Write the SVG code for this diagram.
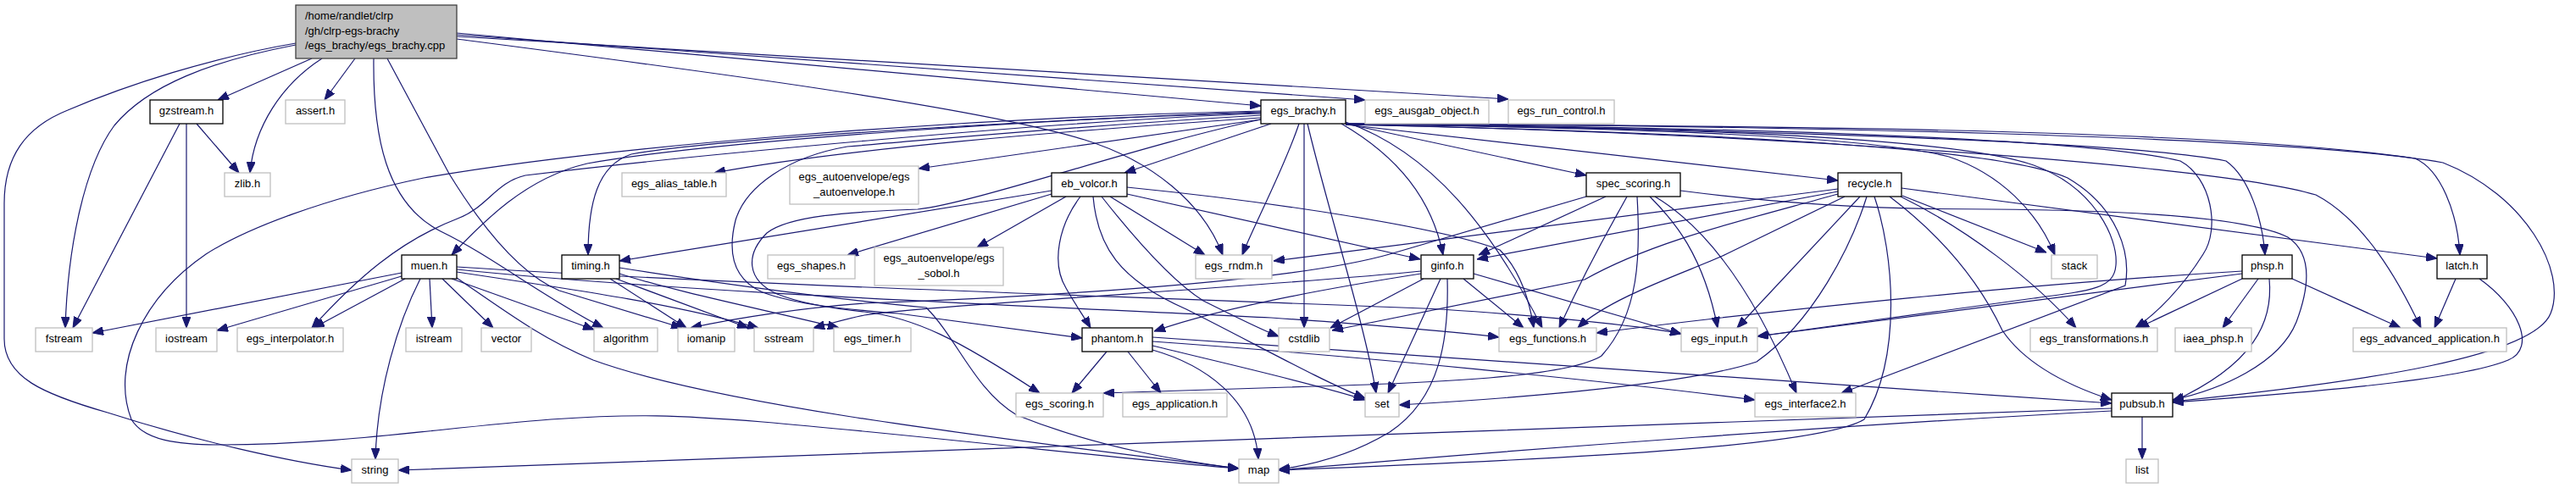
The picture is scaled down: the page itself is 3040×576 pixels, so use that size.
<svg xmlns="http://www.w3.org/2000/svg" width="3040" height="576" viewBox="0 0 3040 576">
<style>
.b{fill:#fff;stroke:#000;stroke-width:1.3}
.g{fill:#fff;stroke:#bfbfbf;stroke-width:1.3}
.r{fill:#bfbfbf;stroke:#404040;stroke-width:1.3}
text{font-family:"Liberation Sans",Arial,sans-serif;font-size:13px;fill:#000;text-anchor:middle}
text.l{text-anchor:start}
#edges path{fill:none;stroke:#191970;stroke-width:1.2;marker-end:url(#a)}
</style>
<defs>
<marker id="a" viewBox="0 0 13 10" refX="13" refY="5" markerWidth="13" markerHeight="10" markerUnits="userSpaceOnUse" orient="auto">
<path d="M0,0 L13,5 L0,10 z" fill="#191970" stroke="#191970" stroke-width="1"/>
</marker>
</defs>
<rect width="3040" height="576" fill="#fff"/>
<g id="edges">
<path d="M368,69 L257,118"/>
<path d="M380,69 C332,100 300,150 295,204"/>
<path d="M419,69 L383,118"/>
<path d="M349,53 C250,72 175,100 135,148 C100,195 80,290 77,387"/>
<path d="M349,51 C250,68 150,100 80,130 C30,150 5,185 5,240 L5,400 C5,445 50,465 127,487 C230,520 340,545 415,555"/>
<path d="M441,69 C440,160 455,240 520,273 C580,302 640,350 712,387"/>
<path d="M457,69 L530,205 C565,262 610,322 660,343 L805,387"/>
<path d="M539,39 L1488,125"/>
<path d="M539,41 L1611,118"/>
<path d="M539,43 L1780,117"/>
<path d="M539,46 C800,80 1150,125 1280,165 C1360,190 1420,240 1443,301"/>
<path d="M212,146 L86,387"/>
<path d="M220,146 L220,387"/>
<path d="M232,146 L282,204"/>
<path d="M1488,139 C1250,155 1000,175 843,204"/>
<path d="M1488,141 L1084,199"/>
<path d="M1500,146 L1327,204"/>
<path d="M1488,132 C1250,140 850,165 693,193 C620,210 570,262 533,301"/>
<path d="M1488,133 C1250,140 850,163 745,182 C705,195 694,240 694,301"/>
<path d="M1488,134 C1250,142 800,185 620,207 C585,215 575,245 540,258 C470,285 420,330 368,387"/>
<path d="M1488,131 C1100,140 700,175 500,210 C380,235 290,270 243,300 C170,350 130,430 155,495 C170,520 210,525 260,525 C400,525 520,505 650,495 C750,488 800,490 900,498 C1100,515 1350,545 1462,553"/>
<path d="M1533,146 C1515,200 1480,265 1466,301"/>
<path d="M1539,146 L1539,387"/>
<path d="M1543,146 C1565,240 1610,380 1624,464"/>
<path d="M1583,146 C1650,185 1690,235 1703,301"/>
<path d="M1588,144 C1690,180 1760,270 1820,387"/>
<path d="M1588,146 L1872,207"/>
<path d="M1588,147 L2169,213"/>
<path d="M1488,136 C1250,150 1100,165 1000,173 C930,185 880,220 868,260 C858,300 866,330 900,345 C940,360 1000,365 1060,370 L1277,399"/>
<path d="M1488,141 C1350,170 1150,240 1083,247 C1000,250 930,255 905,275 C880,300 880,330 917,347 C950,360 990,365 1020,368 C1080,375 1130,400 1227,464"/>
<path d="M1588,147 C1900,150 2200,160 2300,185 C2360,205 2405,250 2425,301"/>
<path d="M1588,146 C1950,150 2300,160 2400,195 C2470,220 2500,280 2497,313 C2495,340 2470,343 2400,352 L2074,397"/>
<path d="M1588,147 C1950,155 2350,170 2440,210 C2500,245 2515,300 2508,337 L2173,464"/>
<path d="M1588,146 C2000,148 2600,150 2850,187 C2880,200 2900,250 2903,301"/>
<path d="M1588,146 C2100,148 2700,160 2883,192 C2980,230 3030,320 3010,370 C2990,420 2800,450 2564,474"/>
<path d="M1588,146 C2000,150 2450,160 2573,190 C2610,210 2620,270 2600,300 C2575,340 2545,370 2520,387"/>
<path d="M1588,146 C2000,152 2500,165 2627,190 C2655,210 2670,260 2673,301"/>
<path d="M1588,147 C2000,155 2600,190 2733,230 C2790,260 2830,330 2857,387"/>
<path d="M1241,229 L1000,301"/>
<path d="M1258,232 L1153,292"/>
<path d="M1275,232 C1250,265 1240,310 1258,340 C1268,358 1280,375 1287,387"/>
<path d="M1310,232 L1422,301"/>
<path d="M1241,225 L731,308"/>
<path d="M1300,232 C1330,270 1380,330 1420,355 C1460,375 1490,390 1509,397"/>
<path d="M1290,232 C1295,290 1320,330 1400,365 C1480,405 1560,450 1611,470"/>
<path d="M1330,229 L1676,306"/>
<path d="M1330,221 C1500,238 1700,268 1770,295 C1795,320 1805,355 1810,387"/>
<path d="M1872,232 L1640,300 C1500,340 1100,355 1020,358 C950,363 870,375 815,387"/>
<path d="M1895,232 L1745,301"/>
<path d="M1920,232 C1905,260 1880,300 1840,387"/>
<path d="M1932,232 C1936,300 1935,370 1890,420 C1850,445 1700,452 1520,457 L1302,464"/>
<path d="M1947,232 C1975,260 2010,300 2027,387"/>
<path d="M1953,232 C2000,260 2060,320 2120,464"/>
<path d="M1983,225 C2100,240 2200,247 2350,247 C2500,248 2650,255 2700,280 C2730,300 2725,340 2710,380 C2690,430 2620,460 2564,472"/>
<path d="M2169,223 L1503,308"/>
<path d="M2169,226 L1743,306"/>
<path d="M2169,229 C2050,262 1950,285 1870,330 L1572,390"/>
<path d="M2177,232 L2037,300 C2000,318 1900,350 1862,387"/>
<path d="M2195,232 L2050,387"/>
<path d="M2203,232 C2185,290 2140,380 2073,427 C2020,445 1880,465 1651,478"/>
<path d="M2212,232 C2235,300 2245,420 2200,495 C2150,525 1900,540 1509,555"/>
<path d="M2230,232 C2280,270 2330,320 2363,390 C2390,430 2440,455 2492,472"/>
<path d="M2243,232 C2320,270 2400,330 2450,387"/>
<path d="M2245,231 L2415,298"/>
<path d="M2244,222 L2876,305"/>
<path d="M2646,320 C2400,335 2100,365 1884,393"/>
<path d="M2646,323 L2074,397"/>
<path d="M2646,329 L2523,387"/>
<path d="M2665,329 L2623,387"/>
<path d="M2678,329 C2683,380 2660,430 2564,474"/>
<path d="M2705,329 L2833,387"/>
<path d="M2898,329 L2873,387"/>
<path d="M2926,329 C2970,360 2995,410 2960,425 C2900,450 2700,465 2564,475"/>
<path d="M2528,492 L2528,542"/>
<path d="M2492,482 C2000,500 1000,535 470,555"/>
<path d="M2492,485 C2200,500 1800,530 1509,555"/>
<path d="M1306,415 L1265,464"/>
<path d="M1331,415 L1370,464"/>
<path d="M1360,413 C1420,430 1480,470 1485,542"/>
<path d="M1360,408 C1450,430 1560,455 1611,472"/>
<path d="M1360,403 C1600,420 1900,450 2071,472"/>
<path d="M1360,398 C1700,420 2100,450 2492,476"/>
<path d="M1680,329 L1570,387"/>
<path d="M1700,329 L1638,464"/>
<path d="M1708,329 C1710,400 1700,470 1640,510 C1590,540 1540,550 1509,554"/>
<path d="M1727,329 L1798,387"/>
<path d="M1739,323 L1984,394"/>
<path d="M1677,323 C1600,335 1450,360 1362,391"/>
<path d="M1677,320 C1500,338 1100,360 1020,372 C1000,376 980,382 960,387"/>
<path d="M720,329 L810,387"/>
<path d="M727,329 L883,387"/>
<path d="M731,323 C800,345 900,365 990,387"/>
<path d="M731,316 C850,335 1000,355 1093,363 C1130,400 1150,460 1200,490 C1300,530 1400,545 1462,553"/>
<path d="M474,322 L109,393"/>
<path d="M474,326 L256,390"/>
<path d="M478,329 L370,387"/>
<path d="M496,329 C470,380 445,460 443,542"/>
<path d="M507,329 L510,387"/>
<path d="M522,329 L582,387"/>
<path d="M533,329 L701,389"/>
<path d="M539,328 C600,370 640,400 700,425 C850,480 1200,520 1462,553"/>
<path d="M539,321 C700,345 800,360 895,387"/>
<path d="M539,318 C800,345 1200,360 1500,375 C1600,382 1700,390 1769,398"/>
<path d="M539,315 C900,338 1400,352 1700,365 C1850,375 1950,387 1984,394"/>
</g>
<g id="n_root"><rect class="r" x="349" y="6" width="190" height="63"/><text class="l" x="360" y="23">/home/randlet/clrp</text><text class="l" x="360" y="40.5">/gh/clrp-egs-brachy</text><text class="l" x="360" y="58">/egs_brachy/egs_brachy.cpp</text></g>
<g id="n_gzstream"><rect class="b" x="177" y="118" width="86" height="28"/><text x="220" y="135">gzstream.h</text></g>
<g id="n_assert"><rect class="g" x="337" y="118" width="70" height="28"/><text x="372" y="135">assert.h</text></g>
<g id="n_egs_brachy"><rect class="b" x="1488" y="118" width="100" height="28"/><text x="1538" y="135">egs_brachy.h</text></g>
<g id="n_ausgab"><rect class="g" x="1611" y="118" width="146" height="28"/><text x="1684" y="135">egs_ausgab_object.h</text></g>
<g id="n_run_control"><rect class="g" x="1780" y="118" width="125" height="28"/><text x="1842.5" y="135">egs_run_control.h</text></g>
<g id="n_zlib"><rect class="g" x="265" y="204" width="54" height="28"/><text x="292" y="221">zlib.h</text></g>
<g id="n_alias"><rect class="g" x="734" y="204" width="123" height="28"/><text x="795.5" y="221">egs_alias_table.h</text></g>
<g id="n_autoenv"><rect class="g" x="932" y="196" width="152" height="45"/><text x="1008" y="212.5">egs_autoenvelope/egs</text><text x="1008" y="230.5">_autoenvelope.h</text></g>
<g id="n_eb_volcor"><rect class="b" x="1241" y="204" width="89" height="28"/><text x="1285.5" y="221">eb_volcor.h</text></g>
<g id="n_spec_scoring"><rect class="b" x="1872" y="204" width="111" height="28"/><text x="1927.5" y="221">spec_scoring.h</text></g>
<g id="n_recycle"><rect class="b" x="2169" y="204" width="75" height="28"/><text x="2206.5" y="221">recycle.h</text></g>
<g id="n_muen"><rect class="b" x="474" y="301" width="65" height="28"/><text x="506.5" y="318">muen.h</text></g>
<g id="n_timing"><rect class="b" x="663" y="301" width="68" height="28"/><text x="697" y="318">timing.h</text></g>
<g id="n_shapes"><rect class="g" x="906" y="301" width="103" height="28"/><text x="957.5" y="318">egs_shapes.h</text></g>
<g id="n_sobol"><rect class="g" x="1032" y="292" width="152" height="45"/><text x="1108" y="308.5">egs_autoenvelope/egs</text><text x="1108" y="326.5">_sobol.h</text></g>
<g id="n_rndm"><rect class="g" x="1411" y="301" width="90" height="28"/><text x="1456" y="318">egs_rndm.h</text></g>
<g id="n_ginfo"><rect class="b" x="1677" y="301" width="62" height="28"/><text x="1708" y="318">ginfo.h</text></g>
<g id="n_stack"><rect class="g" x="2421" y="301" width="54" height="28"/><text x="2448" y="318">stack</text></g>
<g id="n_phsp"><rect class="b" x="2646" y="301" width="59" height="28"/><text x="2675.5" y="318">phsp.h</text></g>
<g id="n_latch"><rect class="b" x="2876" y="301" width="59" height="28"/><text x="2905.5" y="318">latch.h</text></g>
<g id="n_fstream"><rect class="g" x="42" y="387" width="67" height="28"/><text x="75.5" y="404">fstream</text></g>
<g id="n_iostream"><rect class="g" x="184" y="387" width="72" height="28"/><text x="220" y="404">iostream</text></g>
<g id="n_interp"><rect class="g" x="280" y="387" width="125" height="28"/><text x="342.5" y="404">egs_interpolator.h</text></g>
<g id="n_istream"><rect class="g" x="479" y="387" width="66" height="28"/><text x="512" y="404">istream</text></g>
<g id="n_vector"><rect class="g" x="568" y="387" width="59" height="28"/><text x="597.5" y="404">vector</text></g>
<g id="n_algorithm"><rect class="g" x="701" y="387" width="75" height="28"/><text x="738.5" y="404">algorithm</text></g>
<g id="n_iomanip"><rect class="g" x="800" y="387" width="67" height="28"/><text x="833.5" y="404">iomanip</text></g>
<g id="n_sstream"><rect class="g" x="890" y="387" width="70" height="28"/><text x="925" y="404">sstream</text></g>
<g id="n_timer"><rect class="g" x="984" y="387" width="91" height="28"/><text x="1029.5" y="404">egs_timer.h</text></g>
<g id="n_phantom"><rect class="b" x="1277" y="387" width="83" height="28"/><text x="1318.5" y="404">phantom.h</text></g>
<g id="n_cstdlib"><rect class="g" x="1509" y="387" width="60" height="28"/><text x="1539" y="404">cstdlib</text></g>
<g id="n_functions"><rect class="g" x="1769" y="387" width="115" height="28"/><text x="1826.5" y="404">egs_functions.h</text></g>
<g id="n_input"><rect class="g" x="1984" y="387" width="90" height="28"/><text x="2029" y="404">egs_input.h</text></g>
<g id="n_transformations"><rect class="g" x="2396" y="387" width="150" height="28"/><text x="2471" y="404">egs_transformations.h</text></g>
<g id="n_iaea"><rect class="g" x="2567" y="387" width="90" height="28"/><text x="2612" y="404">iaea_phsp.h</text></g>
<g id="n_adv_app"><rect class="g" x="2777" y="387" width="181" height="28"/><text x="2867.5" y="404">egs_advanced_application.h</text></g>
<g id="n_scoring"><rect class="g" x="1199" y="464" width="103" height="28"/><text x="1250.5" y="481">egs_scoring.h</text></g>
<g id="n_application"><rect class="g" x="1325" y="464" width="123" height="28"/><text x="1386.5" y="481">egs_application.h</text></g>
<g id="n_set"><rect class="g" x="1611" y="464" width="40" height="28"/><text x="1631" y="481">set</text></g>
<g id="n_interface2"><rect class="g" x="2071" y="464" width="119" height="28"/><text x="2130.5" y="481">egs_interface2.h</text></g>
<g id="n_pubsub"><rect class="b" x="2492" y="464" width="72" height="28"/><text x="2528" y="481">pubsub.h</text></g>
<g id="n_string"><rect class="g" x="415" y="542" width="55" height="28"/><text x="442.5" y="559">string</text></g>
<g id="n_map"><rect class="g" x="1462" y="542" width="47" height="28"/><text x="1485.5" y="559">map</text></g>
<g id="n_list"><rect class="g" x="2509" y="542" width="38" height="28"/><text x="2528" y="559">list</text></g>
</svg>
